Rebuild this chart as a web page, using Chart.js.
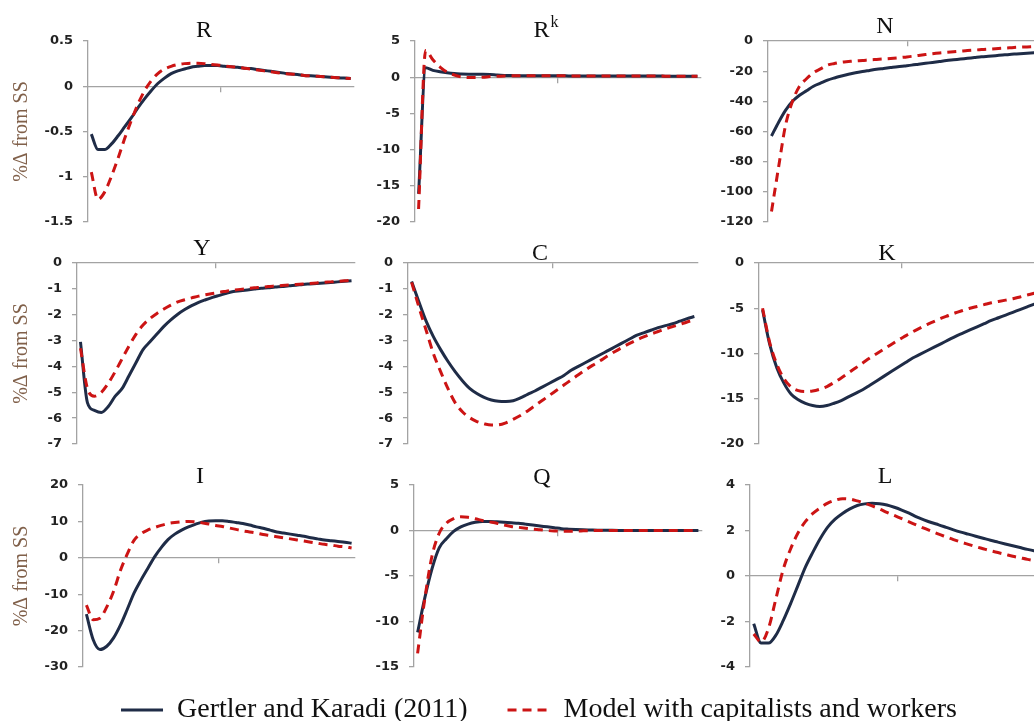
<!DOCTYPE html>
<html>
<head>
<meta charset="utf-8">
<script src="https://cdn.jsdelivr.net/npm/chart.js@4.4.1/dist/chart.umd.min.js"></script>
<style>
html, body { margin: 0; padding: 0; background: #ffffff; width: 1034px; height: 721px; overflow: hidden; }
.panel { position: absolute; }
</style>
</head>
<body>
<script>
// ---------- categories (quarters after the shock) ----------
const quarters = [1,2,3,4,5,6,7,8,9,10,11,12,13,14,15,16,17,18,19,20,
                  21,22,23,24,25,26,27,28,29,30,31,32,33,34,35,36,37,38,39,40];

const seriesNames = ['Gertler and Karadi (2011)', 'Model with capitalists and workers'];
const panelTitles = ['R', 'R', 'N', 'Y', 'C', 'K', 'I', 'Q', 'L'];
const panelTitleSup = ['', 'k', '', '', '', '', '', '', ''];
const yAxisTitle = '%\u0394 from SS';

// ---------- series values (% deviation from steady state) ----------
const R_GK = [-0.53,-0.70,-0.70,-0.64,-0.55,-0.45,-0.35,-0.24,-0.14,-0.05,
              0.03,0.09,0.14,0.17,0.19,0.21,0.22,0.23,0.23,0.23,
              0.22,0.215,0.21,0.20,0.195,0.185,0.175,0.165,0.155,0.145,
              0.135,0.13,0.12,0.115,0.11,0.105,0.10,0.095,0.09,0.085];
const R_CW = [-0.95,-1.25,-1.17,-1.0,-0.80,-0.58,-0.38,-0.20,-0.05,0.06,
              0.14,0.19,0.22,0.24,0.25,0.255,0.255,0.25,0.24,0.235,
              0.225,0.215,0.21,0.20,0.19,0.18,0.17,0.16,0.15,0.14,
              0.135,0.13,0.12,0.115,0.11,0.105,0.10,0.095,0.09,0.085];

const RK_GK = [-16.1,1.3,0.95,0.75,0.6,0.5,0.45,0.42,0.4,0.4,
               0.38,0.3,0.25,0.22,0.2,0.2,0.2,0.2,0.2,0.19,
               0.19,0.18,0.18,0.18,0.17,0.17,0.17,0.16,0.16,0.16,
               0.16,0.15,0.15,0.15,0.15,0.14,0.14,0.14,0.14,0.13];
const RK_CW = [-18.2,3.7,2.4,1.4,0.7,0.3,0.05,-0.05,-0.05,0.0,
               0.08,0.14,0.18,0.2,0.2,0.2,0.2,0.2,0.2,0.19,
               0.19,0.18,0.18,0.18,0.17,0.17,0.17,0.16,0.16,0.16,
               0.16,0.15,0.15,0.15,0.15,0.14,0.14,0.14,0.14,0.13];

const N_GK = [-63,-54,-46,-40,-36,-33,-30,-28,-26,-24.5,
              -23.2,-22,-21,-20.2,-19.5,-18.8,-18.2,-17.6,-17,-16.5,
              -16,-15.4,-14.8,-14.2,-13.6,-13,-12.5,-12,-11.5,-11,
              -10.5,-10.1,-9.7,-9.3,-8.9,-8.6,-8.3,-8.0,-7.7,-7.4];
const N_CW = [-113,-84,-56,-40,-30,-25,-21,-18.5,-16,-14.9,
              -14.0,-13.6,-13.2,-12.9,-12.5,-12.2,-11.9,-11.6,-11.2,-10.7,
              -10.2,-9.6,-9,-8.4,-7.9,-7.5,-7.1,-6.7,-6.3,-6,
              -5.7,-5.4,-5.1,-4.8,-4.5,-4.2,-4,-3.8,-3.6,-3.4];

const Y_GK = [-3.05,-5.4,-5.7,-5.78,-5.55,-5.15,-4.85,-4.35,-3.85,-3.35,
              -3.05,-2.75,-2.45,-2.2,-1.98,-1.8,-1.65,-1.52,-1.42,-1.33,
              -1.25,-1.17,-1.1,-1.07,-1.04,-1.01,-0.98,-0.96,-0.93,-0.91,
              -0.88,-0.86,-0.83,-0.81,-0.79,-0.77,-0.75,-0.73,-0.71,-0.69];
const Y_CW = [-3.3,-4.85,-5.15,-5.0,-4.65,-4.2,-3.7,-3.2,-2.75,-2.4,
              -2.15,-1.95,-1.78,-1.63,-1.5,-1.42,-1.35,-1.28,-1.23,-1.18,
              -1.13,-1.09,-1.05,-1.02,-0.99,-0.96,-0.94,-0.91,-0.89,-0.87,
              -0.85,-0.83,-0.81,-0.79,-0.77,-0.75,-0.73,-0.71,-0.69,-0.67];

const C_GK = [-0.72,-1.5,-2.25,-2.85,-3.35,-3.8,-4.2,-4.55,-4.85,-5.05,
              -5.2,-5.3,-5.35,-5.36,-5.33,-5.22,-5.08,-4.95,-4.8,-4.65,
              -4.5,-4.35,-4.15,-4.0,-3.85,-3.7,-3.55,-3.4,-3.25,-3.1,
              -2.95,-2.8,-2.7,-2.6,-2.5,-2.42,-2.35,-2.25,-2.15,-2.07];
const C_CW = [-0.75,-1.7,-2.6,-3.5,-4.2,-4.85,-5.4,-5.75,-5.98,-6.13,
              -6.22,-6.27,-6.26,-6.18,-6.05,-5.9,-5.72,-5.52,-5.32,-5.12,
              -4.92,-4.72,-4.52,-4.32,-4.13,-3.95,-3.78,-3.6,-3.43,-3.27,
              -3.12,-2.98,-2.86,-2.75,-2.65,-2.55,-2.46,-2.37,-2.28,-2.2];

const K_GK = [-5.2,-9.0,-11.6,-13.3,-14.5,-15.1,-15.5,-15.75,-15.85,-15.75,
              -15.5,-15.2,-14.8,-14.4,-14.0,-13.5,-13.0,-12.5,-12.0,-11.5,
              -11.0,-10.5,-10.1,-9.7,-9.3,-8.9,-8.5,-8.1,-7.75,-7.4,
              -7.05,-6.7,-6.35,-6.05,-5.75,-5.45,-5.15,-4.85,-4.55,-4.3];
const K_CW = [-5.0,-8.8,-11.2,-12.8,-13.7,-14.1,-14.2,-14.15,-13.95,-13.65,
              -13.2,-12.7,-12.15,-11.6,-11.05,-10.5,-10.0,-9.5,-9.0,-8.5,
              -8.05,-7.6,-7.2,-6.8,-6.45,-6.1,-5.8,-5.5,-5.25,-5.0,
              -4.8,-4.6,-4.4,-4.25,-4.1,-3.95,-3.75,-3.55,-3.35,-3.2];

const I_GK = [-15.5,-22.5,-25.2,-24.3,-22,-18.5,-14.2,-9.7,-6.2,-3.0,
              0.2,2.8,5.0,6.5,7.6,8.5,9.2,9.8,10.1,10.2,
              10.2,10.0,9.7,9.4,9.0,8.5,8.1,7.6,7.1,6.8,
              6.5,6.2,5.9,5.5,5.2,4.9,4.7,4.5,4.3,4.0];
const I_CW = [-13,-17.0,-16.6,-13.5,-9.2,-3.5,1.0,4.8,6.6,7.6,
              8.3,8.9,9.4,9.7,9.9,10.0,9.9,9.6,9.3,8.9,
              8.6,8.2,7.8,7.4,7.1,6.8,6.4,6.1,5.8,5.5,
              5.2,4.9,4.6,4.3,4.0,3.7,3.5,3.2,3.0,2.7];

const Q_GK = [-11.2,-7.4,-4.2,-1.9,-0.9,-0.1,0.4,0.7,0.9,1.0,
              1.0,0.95,0.9,0.85,0.8,0.7,0.6,0.5,0.4,0.3,
              0.2,0.15,0.11,0.08,0.06,0.04,0.03,0.02,0.01,0,
              0,0,0,0,0,0,0,0,0,0];
const Q_CW = [-13.5,-7.5,-2.8,-0.3,0.8,1.3,1.5,1.45,1.3,1.1,
              0.95,0.8,0.6,0.45,0.35,0.25,0.15,0.08,0.0,-0.05,
              -0.08,-0.08,-0.06,-0.04,-0.02,0,0,0,0,0,
              0,0,0,0,0,0,0,0,0,0];

const L_GK = [-2.1,-2.95,-2.95,-2.6,-1.95,-1.2,-0.4,0.4,1.05,1.65,
              2.15,2.5,2.75,2.95,3.1,3.17,3.2,3.18,3.12,3.02,
              2.9,2.76,2.6,2.47,2.35,2.25,2.14,2.03,1.93,1.84,
              1.75,1.66,1.57,1.49,1.41,1.33,1.25,1.17,1.1,1.04];
const L_CW = [-2.55,-2.9,-2.3,-1.0,0.3,1.2,1.9,2.4,2.75,3.0,
              3.2,3.33,3.4,3.38,3.3,3.2,3.08,2.95,2.8,2.66,
              2.52,2.38,2.24,2.1,1.97,1.84,1.72,1.6,1.49,1.39,
              1.29,1.2,1.11,1.03,0.95,0.87,0.8,0.73,0.67,0.6];

const gkSeries = [R_GK, RK_GK, N_GK, Y_GK, C_GK, K_GK, I_GK, Q_GK, L_GK];
const cwSeries = [R_CW, RK_CW, N_CW, Y_CW, C_CW, K_CW, I_CW, Q_CW, L_CW];

// ---------- y-axis tick ranges ----------
const yMin  = [-1.5, -20, -120, -7, -7, -20, -30, -15, -4];
const yMax  = [0.5, 5, 0, 0, 0, 0, 20, 5, 4];
const yStep = [0.5, 5, 20, 1, 1, 5, 10, 5, 2];

// ---------- layout (plot area boxes: left, right, top, bottom) ----------
const plotBoxes = [
  [88, 354, 41, 222], [415, 701, 41, 222], [768, 1048, 41, 222],
  [77, 355, 263, 444], [408, 698, 263, 444], [759, 1045, 263, 444],
  [83, 355, 485, 667], [414, 702, 485, 667], [750, 1046, 485, 667]
];
const titleDx = [-17, -12, -23, -14, -13, -15, -19, -16, -13];
const titleDy = [-4, -4, -8, -8, -3, -3, -2, -1, -2];

// ---------- styles ----------
const axisGray = '#a3a3a3';
const tickColor = '#222222';
const gkColor = '#1f2c47';
const cwColor = '#cc1414';
const cwDash = [9, 6];
const lineW = 3;

const panelTitlePlugin = {
  id: 'panelTitle',
  afterDraw(chart, args, opts) {
    const ctx = chart.ctx;
    const area = chart.chartArea;
    const cx = (area.left + area.right) / 2 + opts.dx;
    const y = area.top + opts.dy;
    const mainFont = '24px "Liberation Serif"';
    const supFont = '16px "Liberation Serif"';
    ctx.save();
    ctx.fillStyle = '#111111';
    ctx.textBaseline = 'alphabetic';
    ctx.textAlign = 'left';
    ctx.font = mainFont;
    const w1 = ctx.measureText(opts.text).width;
    let w2 = 0;
    if (opts.sup) { ctx.font = supFont; w2 = ctx.measureText(opts.sup).width + 1; }
    const x0 = cx - (w1 + w2) / 2;
    ctx.font = mainFont;
    ctx.fillText(opts.text, x0, y);
    if (opts.sup) { ctx.font = supFont; ctx.fillText(opts.sup, x0 + w1 + 1, y - 10); }
    ctx.restore();
  }
};

const midTick = quarters.length / 2;
const fmtTick = (v) => String(Number(Number(v).toFixed(4)));

function makePanel(k) {
  const [pl, pr, pt, pb] = plotBoxes[k];
  const col = k % 3;
  const axisW = col === 0 ? pl : 70;
  const padTop = 34, padBottom = 12, padRight = 10;
  const div = document.createElement('div');
  div.className = 'panel';
  div.style.left = (pl - axisW) + 'px';
  div.style.top = (pt - padTop) + 'px';
  div.style.width = (axisW + (pr - pl) + padRight) + 'px';
  div.style.height = (padTop + (pb - pt) + padBottom) + 'px';
  const cv = document.createElement('canvas');
  div.appendChild(cv);
  document.body.appendChild(div);

  new Chart(cv, {
    type: 'line',
    data: {
      labels: quarters,
      datasets: [
        { label: seriesNames[1], data: cwSeries[k], borderColor: cwColor, borderWidth: lineW,
          borderDash: cwDash, pointRadius: 0, fill: false, cubicInterpolationMode: 'monotone' },
        { label: seriesNames[0], data: gkSeries[k], borderColor: gkColor, borderWidth: lineW,
          pointRadius: 0, fill: false, cubicInterpolationMode: 'monotone' }
      ]
    },
    options: {
      responsive: true,
      maintainAspectRatio: false,
      animation: false,
      devicePixelRatio: 1,
      layout: { padding: { top: padTop, bottom: padBottom, right: padRight, left: 0 } },
      plugins: {
        legend: { display: false },
        tooltip: { enabled: false },
        panelTitle: { text: panelTitles[k], sup: panelTitleSup[k], dx: titleDx[k], dy: titleDy[k] }
      },
      scales: {
        x: {
          type: 'category',
          offset: true,
          position: { y: 0 },
          ticks: { display: false },
          grid: {
            display: true, drawOnChartArea: false, drawTicks: true, tickLength: 5, offset: true,
            lineWidth: 1.3,
            color: (c) => (c.index === midTick ? axisGray : 'rgba(0,0,0,0)')
          },
          border: { display: true, color: axisGray, width: 1.3 },
          afterFit(scale) { scale.paddingLeft = 0; scale.paddingRight = 0; scale.paddingTop = 0; scale.paddingBottom = 0; }
        },
        y: {
          type: 'linear',
          min: yMin[k], max: yMax[k],
          ticks: { stepSize: yStep[k], color: tickColor, padding: 10, callback: fmtTick,
                   font: { family: 'DejaVu Sans', size: 13, weight: 'bold' } },
          grid: { display: true, drawOnChartArea: false, drawTicks: true, tickLength: 5,
                  color: axisGray, lineWidth: 1.3 },
          border: { display: true, color: axisGray, width: 1.3 },
          title: { display: col === 0, text: yAxisTitle, color: '#80604a',
                   font: { family: 'Liberation Serif', size: 20 }, padding: { top: 10, bottom: 0 } },
          afterFit(scale) { scale.width = axisW; scale.paddingTop = 0; scale.paddingBottom = 0; }
        }
      }
    },
    plugins: [panelTitlePlugin]
  });
}

for (let k = 0; k < 9; k++) makePanel(k);

// ---------- shared legend ----------
(function () {
  const div = document.createElement('div');
  div.className = 'panel';
  div.style.left = '0px';
  div.style.top = '656px';
  div.style.width = '1034px';
  div.style.height = '260px';
  const cv = document.createElement('canvas');
  div.appendChild(cv);
  document.body.appendChild(div);
  new Chart(cv, {
    type: 'line',
    data: {
      labels: quarters,
      datasets: [
        { label: seriesNames[0], data: [], borderColor: gkColor, borderWidth: lineW, pointRadius: 0 },
        { label: seriesNames[1], data: [], borderColor: cwColor, borderWidth: lineW, borderDash: cwDash, pointRadius: 0 }
      ]
    },
    options: {
      responsive: true,
      maintainAspectRatio: false,
      animation: false,
      devicePixelRatio: 1,
      layout: { padding: { left: 44 } },
      scales: { x: { display: false }, y: { display: false } },
      plugins: {
        tooltip: { enabled: false },
        legend: {
          display: true,
          position: 'top',
          maxHeight: 200,
          labels: {
            usePointStyle: true,
            pointStyle: 'line',
            pointStyleWidth: 42,
            padding: 40,
            color: '#111111',
            font: { family: 'Liberation Serif', size: 28 },
            generateLabels: (chart) => chart.data.datasets.map((ds, i) => ({
              text: ds.label,
              strokeStyle: ds.borderColor,
              fillStyle: ds.borderColor,
              lineWidth: ds.borderWidth,
              lineDash: ds.borderDash || [],
              lineCap: 'butt',
              pointStyle: 'line',
              hidden: false,
              datasetIndex: i,
              fontColor: '#111111'
            }))
          }
        }
      }
    }
  });
})();
</script>
</body>
</html>
